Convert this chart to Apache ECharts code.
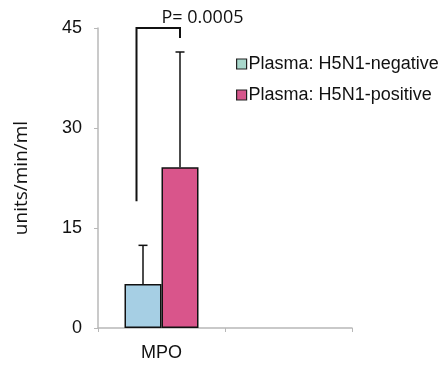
<!DOCTYPE html>
<html><head><meta charset="utf-8">
<script src="https://cdn.jsdelivr.net/npm/echarts@6/dist/echarts.min.js"></script>
<style>html,body{margin:0;padding:0;background:#fff}#c{width:442px;height:365px}</style>
</head><body><div id="c"></div>
<script>
const categories = ['MPO', ''];
const seriesNames = ['Plasma: H5N1-negative', 'Plasma: H5N1-positive'];
const negValues = [6.6, null];
const posValues = [24.1, null];
const negUpper = [12.4, null];
const posUpper = [41.4, null];
const yTicks = [0, 15, 30, 45];
const bracket = { left: 19, top: 45, right: 43.5, label: 'P= 0.0005' };

const chart = echarts.init(document.getElementById('c'));
const barW = 37;
function errItem(offset) {
  return function (params, api) {
    const c = api.coord([api.value(0), api.value(1)]);
    const b = api.coord([api.value(0), api.value(2)]);
    const x = c[0] + offset;
    return { type: 'group', children: [
      { type: 'line', shape: { x1: x, y1: b[1], x2: x, y2: c[1] }, style: { stroke: '#111', lineWidth: 1.5 } },
      { type: 'line', shape: { x1: x - 4.5, y1: c[1], x2: x + 4.5, y2: c[1] }, style: { stroke: '#111', lineWidth: 1.5 } }
    ]};
  };
}
chart.setOption({
  animation: false,
  grid: { left: 98, right: 90, top: 28, bottom: 37 },
  legend: {
    orient: 'vertical', left: 231, top: 50, itemWidth: 10, itemHeight: 10, itemGap: 13,
    icon: 'rect',
    textStyle: { fontFamily: 'Liberation Sans', fontSize: 18, color: '#111', padding: [0, 0, 0, -3] },
    data: [
      { name: seriesNames[0], itemStyle: { color: '#a9d8cc', borderColor: '#222', borderWidth: 1.2 } },
      { name: seriesNames[1], itemStyle: { color: '#d6578c', borderColor: '#222', borderWidth: 1.2 } }
    ]
  },
  xAxis: {
    type: 'category', data: categories, boundaryGap: true,
    axisLine: { lineStyle: { color: '#b8b8b8', width: 1.5 } },
    axisTick: { show: true, length: 4, lineStyle: { color: '#b8b8b8' } },
    axisLabel: { fontFamily: 'Liberation Sans', fontSize: 18, color: '#111', margin: 16 }
  },
  yAxis: {
    type: 'value', min: 0, max: 45, interval: 15,
    name: 'units/min/ml', nameLocation: 'middle', nameRotate: 90, nameGap: 67,
    nameTextStyle: { fontFamily: 'Open Sans', fontSize: 19, color: '#111' },
    axisLine: { show: true, lineStyle: { color: '#b8b8b8', width: 1.5 } },
    axisTick: { show: true, length: 4, lineStyle: { color: '#b8b8b8' } },
    splitLine: { show: false },
    axisLabel: { fontFamily: 'Liberation Sans', fontSize: 18, color: '#111', margin: 16,
      formatter: v => yTicks.includes(v) ? String(v) : '' }
  },
  series: [
    { name: seriesNames[0], type: 'bar', data: negValues, barWidth: barW, barGap: '0%',
      itemStyle: { color: '#a6cfe4', borderColor: '#111', borderWidth: 1.5 } },
    { name: seriesNames[1], type: 'bar', data: posValues, barWidth: barW,
      itemStyle: { color: '#d9558b', borderColor: '#111', borderWidth: 1.5 } },
    { type: 'custom', renderItem: errItem(-barW / 2), data: [[0, negUpper[0], negValues[0]]], z: 5, silent: true },
    { type: 'custom', renderItem: errItem(barW / 2), data: [[0, posUpper[0], posValues[0]]], z: 5, silent: true },
    { type: 'custom', z: 6, silent: true, clip: false,
      data: [[0, bracket.left, bracket.top, bracket.right]],
      renderItem: function (params, api) {
        const l = api.coord([api.value(0), api.value(1)]);
        const t = api.coord([api.value(0), api.value(2)]);
        const r = api.coord([api.value(0), api.value(3)]);
        const xl = l[0] - 25, xr = l[0] + barW / 2;
        return { type: 'group', children: [
          { type: 'polyline', shape: { points: [[xl, l[1]], [xl, t[1]], [xr, t[1]], [xr, r[1]]] },
            style: { stroke: '#111', lineWidth: 2, fill: null } },
          { type: 'text', x: l[0], y: t[1] - 10,
            style: { text: bracket.label, font: 'normal 18px "Open Sans"', fontSize: 18, fontFamily: 'Open Sans', fill: '#111', verticalAlign: 'middle', align: 'left' } }
        ]};
      }
    }
  ]
});
</script></body></html>
